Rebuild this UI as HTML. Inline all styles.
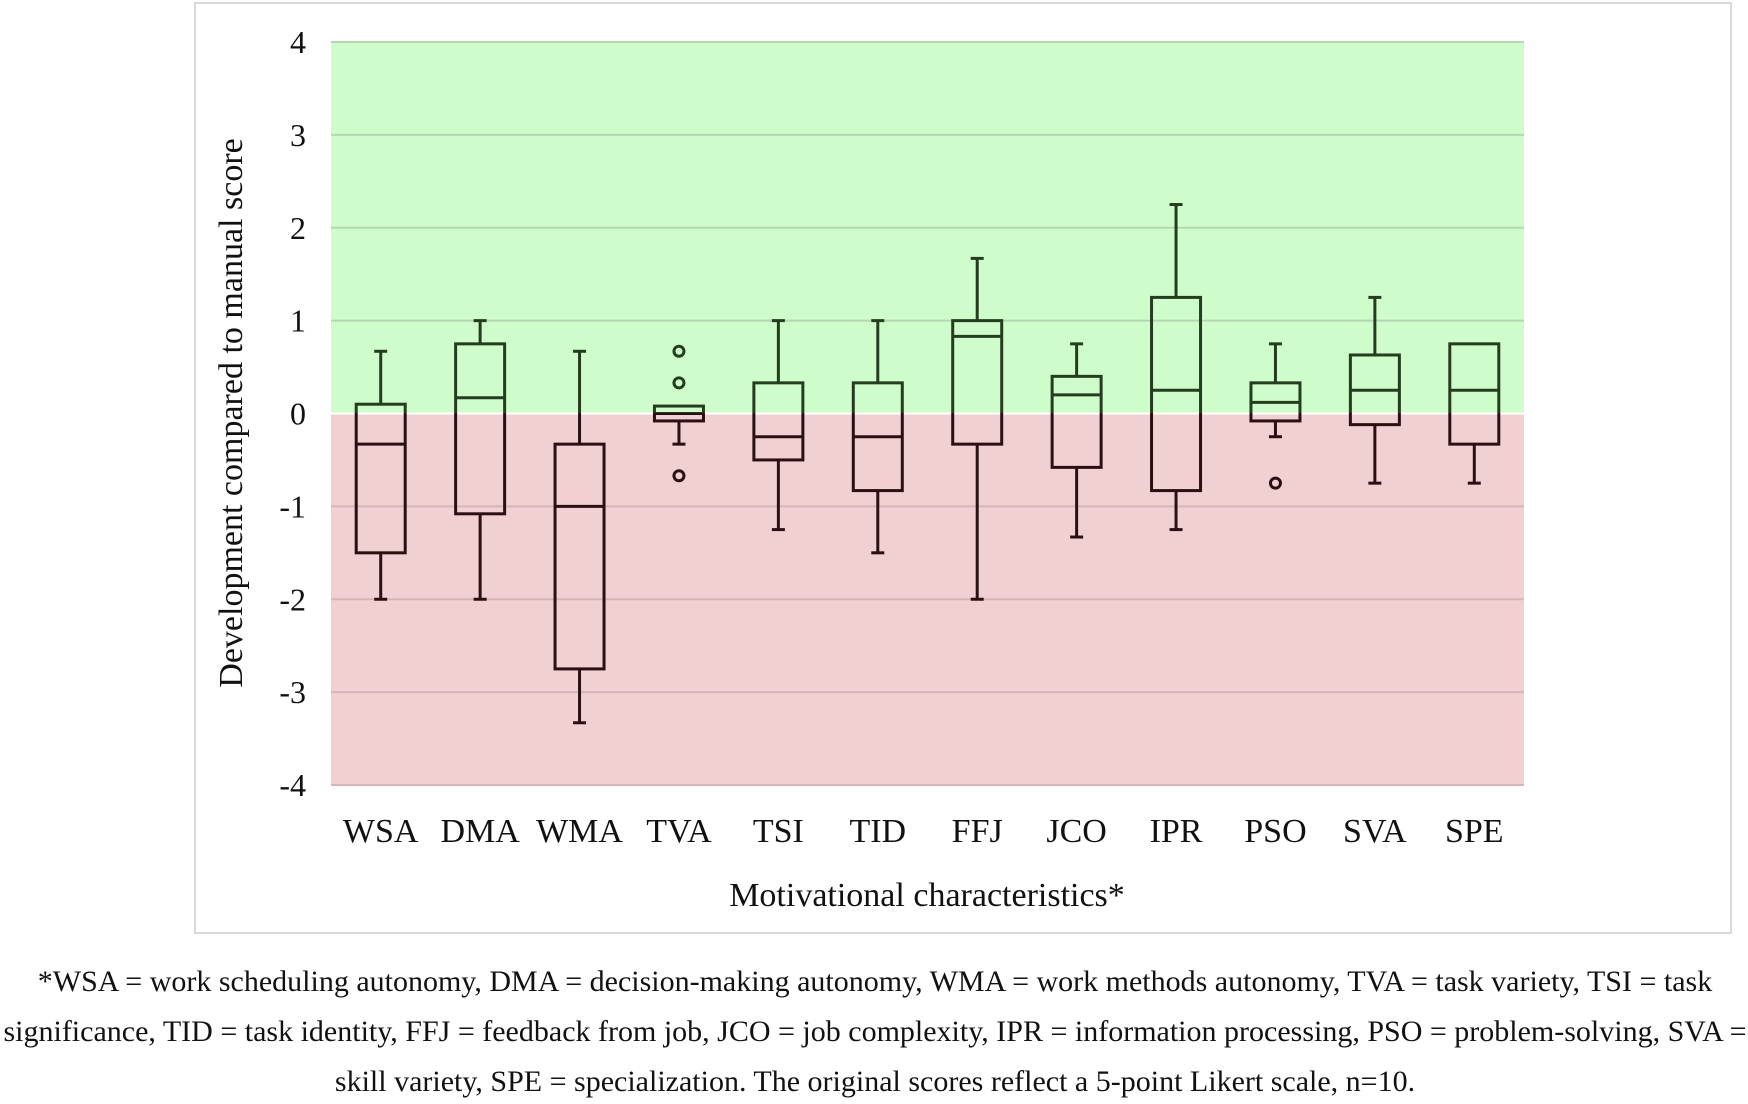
<!DOCTYPE html>
<html><head><meta charset="utf-8"><style>
html,body{margin:0;padding:0;background:#fff;width:1748px;height:1104px;overflow:hidden}
svg{display:block}
text{font-family:"Liberation Serif",serif;fill:#111}
</style></head><body>
<svg id="chart" width="1748" height="1104">
<rect x="195" y="3" width="1536" height="930" fill="#fff" stroke="#d9d9d9" stroke-width="2"/>
<defs>
<clipPath id="above"><rect x="0" y="0" width="1748" height="413"/></clipPath>
<clipPath id="below"><rect x="0" y="413" width="1748" height="700"/></clipPath>
</defs>
<g id="bg"></g><g id="grid"></g><g id="boxesA" clip-path="url(#above)"></g><g id="boxesB" clip-path="url(#below)"></g><g id="labels"></g>
<text x="234" y="413" font-size="34" text-anchor="middle" transform="rotate(-90 234 413)" dominant-baseline="middle">Development compared to manual score</text>
<text x="927" y="906" font-size="34" text-anchor="middle">Motivational characteristics*</text>
<g font-size="30" text-anchor="middle">
<text x="875" y="991">*WSA = work scheduling autonomy, DMA = decision-making autonomy, WMA = work methods autonomy, TVA = task variety, TSI = task</text>
<text x="875" y="1041">significance, TID = task identity, FFJ = feedback from job, JCO = job complexity, IPR = information processing, PSO = problem-solving, SVA =</text>
<text x="875" y="1091">skill variety, SPE = specialization. The original scores reflect a 5-point Likert scale, n=10.</text>
</g>
</svg>
<script>
const categories=["WSA","DMA","WMA","TVA","TSI","TID","FFJ","JCO","IPR","PSO","SVA","SPE"];
const mins=[-2,-2,-3.33,-0.33,-1.25,-1.5,-2,-1.33,-1.25,-0.25,-0.75,-0.75];
const q1s=[-1.5,-1.08,-2.75,-0.08,-0.5,-0.83,-0.33,-0.58,-0.83,-0.08,-0.12,-0.33];
const medians=[-0.33,0.17,-1,0,-0.25,-0.25,0.83,0.2,0.25,0.12,0.25,0.25];
const q3s=[0.1,0.75,-0.33,0.08,0.33,0.33,1,0.4,1.25,0.33,0.63,0.75];
const maxs=[0.67,1,0.67,0.08,1,1,1.67,0.75,2.25,0.75,1.25,0.75];
const outlierCats=["TVA","TVA","TVA","PSO"];
const outlierVals=[0.67,0.33,-0.67,-0.75];
const yTicks=[4,3,2,1,0,-1,-2,-3,-4];

const NS="http://www.w3.org/2000/svg";
const PL=331,PR=1524,PT=42,PB=785,YMAX=4,YMIN=-4;
const y=v=>PT+(YMAX-v)/(YMAX-YMIN)*(PB-PT);
const bw=(PR-PL)/categories.length;
const x=i=>PL+bw*(i+0.5);
function mk(tag,attrs,parent){const e=document.createElementNS(NS,tag);for(const k in attrs)e.setAttribute(k,attrs[k]);parent.appendChild(e);return e;}
const bg=document.getElementById('bg'),grid=document.getElementById('grid'),lab=document.getElementById('labels');
let r=mk('rect',{x:PL,y:y(4),width:PR-PL,height:y(0)-y(4),fill:'#cffccb'},bg);


r=mk('rect',{x:PL,y:y(0),width:PR-PL,height:y(-4)-y(0),fill:'#f1d0d2'},bg);


yTicks.forEach(t=>{
  const l=mk('line',{x1:PL,x2:PR,y1:y(t),y2:y(t),stroke:t===0?'#ffffff':(t>0?'#b5d6b2':'#d6b5b8'),'stroke-width':2},grid);
  
  
  const tx=mk('text',{x:306,y:y(t)+11,'font-size':32,'text-anchor':'end'},lab);
  tx.textContent=String(t);
  
  
});
const W=49,C=13;
[['boxesA','#243d1f'],['boxesB','#2b1012']].forEach(([gid,col])=>{
  const g=document.getElementById(gid);
  categories.forEach((c,i)=>{
    const cx=x(i);
    const grp=mk('g',{stroke:col,'stroke-width':3,fill:'none'},g);
    
    
    mk('rect',{x:cx-W/2,y:y(q3s[i]),width:W,height:y(q1s[i])-y(q3s[i])},grp);
    mk('line',{x1:cx-W/2,x2:cx+W/2,y1:y(medians[i]),y2:y(medians[i])},grp);
    if(maxs[i]>q3s[i]){mk('line',{x1:cx,x2:cx,y1:y(maxs[i]),y2:y(q3s[i])},grp);mk('line',{x1:cx-C/2,x2:cx+C/2,y1:y(maxs[i]),y2:y(maxs[i])},grp);}
    if(mins[i]<q1s[i]){mk('line',{x1:cx,x2:cx,y1:y(q1s[i]),y2:y(mins[i])},grp);mk('line',{x1:cx-C/2,x2:cx+C/2,y1:y(mins[i]),y2:y(mins[i])},grp);}
  });
  outlierCats.forEach((c,k)=>{
    const o=mk('circle',{cx:x(categories.indexOf(c)),cy:y(outlierVals[k]),r:5,fill:'none',stroke:col,'stroke-width':3},g);
    
    
  });
});
categories.forEach((c,i)=>{
  const t=mk('text',{x:x(i),y:842,'font-size':34,'text-anchor':'middle'},lab);
  t.textContent=c;
  
  
});
</script>
</body></html>
